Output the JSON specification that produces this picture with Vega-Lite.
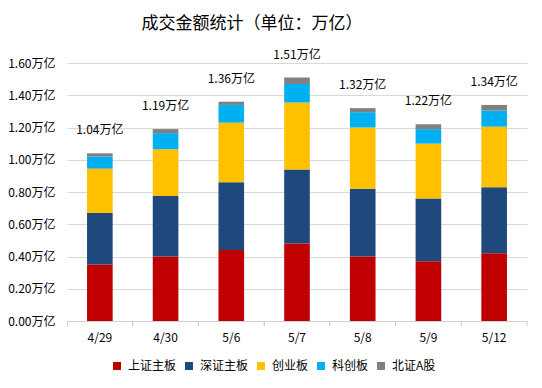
{
  "$schema": "https://vega.github.io/schema/vega-lite/v6.json",
  "autosize": "none",
  "width": 460,
  "height": 258,
  "padding": {"left": 67, "top": 63, "right": 15, "bottom": 67},
  "background": "white",
  "config": {
    "font": "Noto Sans CJK SC",
    "view": {"stroke": null},
    "axis": {"labelFont": "Noto Sans CJK SC", "labelColor": "#000000"},
    "legend": {"labelFont": "Noto Sans CJK SC"}
  },
  "title": {
    "text": "成交金额统计（单位：万亿）",
    "fontSize": 17,
    "fontWeight": "normal",
    "color": "#000000",
    "anchor": "middle",
    "frame": "group",
    "dx": -45,
    "offset": 16
  },
  "datasets": {
    "seg": [
      {"date": "4/29", "board": "上证主板", "k": 1, "v": 0.35},
      {"date": "4/29", "board": "深证主板", "k": 2, "v": 0.32},
      {"date": "4/29", "board": "创业板", "k": 3, "v": 0.275},
      {"date": "4/29", "board": "科创板", "k": 4, "v": 0.075},
      {"date": "4/29", "board": "北证A股", "k": 5, "v": 0.02},
      {"date": "4/30", "board": "上证主板", "k": 1, "v": 0.40},
      {"date": "4/30", "board": "深证主板", "k": 2, "v": 0.375},
      {"date": "4/30", "board": "创业板", "k": 3, "v": 0.29},
      {"date": "4/30", "board": "科创板", "k": 4, "v": 0.10},
      {"date": "4/30", "board": "北证A股", "k": 5, "v": 0.025},
      {"date": "5/6", "board": "上证主板", "k": 1, "v": 0.44},
      {"date": "5/6", "board": "深证主板", "k": 2, "v": 0.42},
      {"date": "5/6", "board": "创业板", "k": 3, "v": 0.37},
      {"date": "5/6", "board": "科创板", "k": 4, "v": 0.11},
      {"date": "5/6", "board": "北证A股", "k": 5, "v": 0.02},
      {"date": "5/7", "board": "上证主板", "k": 1, "v": 0.48},
      {"date": "5/7", "board": "深证主板", "k": 2, "v": 0.46},
      {"date": "5/7", "board": "创业板", "k": 3, "v": 0.415},
      {"date": "5/7", "board": "科创板", "k": 4, "v": 0.115},
      {"date": "5/7", "board": "北证A股", "k": 5, "v": 0.04},
      {"date": "5/8", "board": "上证主板", "k": 1, "v": 0.40},
      {"date": "5/8", "board": "深证主板", "k": 2, "v": 0.42},
      {"date": "5/8", "board": "创业板", "k": 3, "v": 0.38},
      {"date": "5/8", "board": "科创板", "k": 4, "v": 0.095},
      {"date": "5/8", "board": "北证A股", "k": 5, "v": 0.025},
      {"date": "5/9", "board": "上证主板", "k": 1, "v": 0.37},
      {"date": "5/9", "board": "深证主板", "k": 2, "v": 0.39},
      {"date": "5/9", "board": "创业板", "k": 3, "v": 0.34},
      {"date": "5/9", "board": "科创板", "k": 4, "v": 0.09},
      {"date": "5/9", "board": "北证A股", "k": 5, "v": 0.03},
      {"date": "5/12", "board": "上证主板", "k": 1, "v": 0.42},
      {"date": "5/12", "board": "深证主板", "k": 2, "v": 0.41},
      {"date": "5/12", "board": "创业板", "k": 3, "v": 0.375},
      {"date": "5/12", "board": "科创板", "k": 4, "v": 0.10},
      {"date": "5/12", "board": "北证A股", "k": 5, "v": 0.035}
    ],
    "tot": [
      {"date": "4/29", "total": 1.04, "label": "1.04万亿"},
      {"date": "4/30", "total": 1.19, "label": "1.19万亿"},
      {"date": "5/6", "total": 1.36, "label": "1.36万亿"},
      {"date": "5/7", "total": 1.51, "label": "1.51万亿"},
      {"date": "5/8", "total": 1.32, "label": "1.32万亿"},
      {"date": "5/9", "total": 1.22, "label": "1.22万亿"},
      {"date": "5/12", "total": 1.34, "label": "1.34万亿"}
    ]
  },
  "layer": [
    {
      "data": {"name": "seg"},
      "mark": {"type": "bar", "width": {"band": 0.39}},
      "encoding": {
        "x": {
          "field": "date", "type": "nominal", "sort": null,
          "scale": {"paddingInner": 0, "paddingOuter": 0},
          "axis": {
            "title": null, "labelAngle": 0, "labelFontSize": 12,
            "bandPosition": 0,
            "labelPadding": 6, "ticks": true, "tickSize": 5, "tickColor": "#D0D0D0",
            "domain": true, "domainColor": "#D0D0D0", "grid": false, "orient": "bottom"
          }
        },
        "y": {
          "field": "v", "type": "quantitative", "stack": "zero",
          "scale": {"domain": [0, 1.6], "nice": false},
          "axis": {
            "title": null,
            "values": [0, 0.2, 0.4, 0.6, 0.8, 1.0, 1.2, 1.4, 1.6],
            "labelExpr": "format(datum.value, '.2f') + '万亿'",
            "labelFontSize": 12, "labelPadding": 12, "labelOverlap": false,
            "ticks": false, "domain": false,
            "grid": true, "gridColor": "#D9D9D9", "gridWidth": 1
          }
        },
        "color": {
          "field": "board", "type": "nominal",
          "scale": {
            "domain": ["上证主板", "深证主板", "创业板", "科创板", "北证A股"],
            "range": ["#C00000", "#1F497D", "#FFC000", "#00B0F0", "#808080"]
          },
          "legend": {
            "title": null, "orient": "none", "direction": "horizontal",
            "legendX": 44, "legendY": 297, "padding": 0,
            "symbolType": "square", "symbolSize": 64, "symbolStrokeWidth": 0,
            "labelFontSize": 12, "labelOffset": 5, "columnPadding": 6
          }
        },
        "order": {"field": "k", "type": "quantitative"}
      }
    },
    {
      "data": {"name": "tot"},
      "mark": {"type": "text", "fontSize": 12, "dy": -23, "baseline": "middle", "color": "#000000"},
      "encoding": {
        "x": {
          "field": "date", "type": "nominal", "sort": null,
          "axis": {
            "title": null, "labelAngle": 0, "labelFontSize": 12,
            "bandPosition": 0,
            "labelPadding": 6, "ticks": true, "tickSize": 5, "tickColor": "#D0D0D0",
            "domain": true, "domainColor": "#D0D0D0", "grid": false, "orient": "bottom"
          }
        },
        "y": {
          "field": "total", "type": "quantitative",
          "axis": {
            "title": null,
            "values": [0, 0.2, 0.4, 0.6, 0.8, 1.0, 1.2, 1.4, 1.6],
            "labelExpr": "format(datum.value, '.2f') + '万亿'",
            "labelFontSize": 12, "labelPadding": 12, "labelOverlap": false,
            "ticks": false, "domain": false,
            "grid": true, "gridColor": "#D9D9D9", "gridWidth": 1
          }
        },
        "text": {"field": "label"}
      }
    },
    {
      "data": {"name": "tot"},
      "mark": {"type": "rule", "color": "#D0D0D0", "strokeWidth": 1},
      "encoding": {
        "x": {
          "field": "date", "type": "nominal", "sort": null, "bandPosition": 1,
          "axis": {
            "title": null, "labelAngle": 0, "labelFontSize": 12,
            "bandPosition": 0,
            "labelPadding": 6, "ticks": true, "tickSize": 5, "tickColor": "#D0D0D0",
            "domain": true, "domainColor": "#D0D0D0", "grid": false, "orient": "bottom"
          }
        },
        "y": {
          "datum": 0, "type": "quantitative",
          "axis": {
            "title": null,
            "values": [0, 0.2, 0.4, 0.6, 0.8, 1.0, 1.2, 1.4, 1.6],
            "labelExpr": "format(datum.value, '.2f') + '万亿'",
            "labelFontSize": 12, "labelPadding": 12, "labelOverlap": false,
            "ticks": false, "domain": false,
            "grid": true, "gridColor": "#D9D9D9", "gridWidth": 1
          }
        },
        "y2": {"datum": -0.031}
      }
    }
  ]
}
